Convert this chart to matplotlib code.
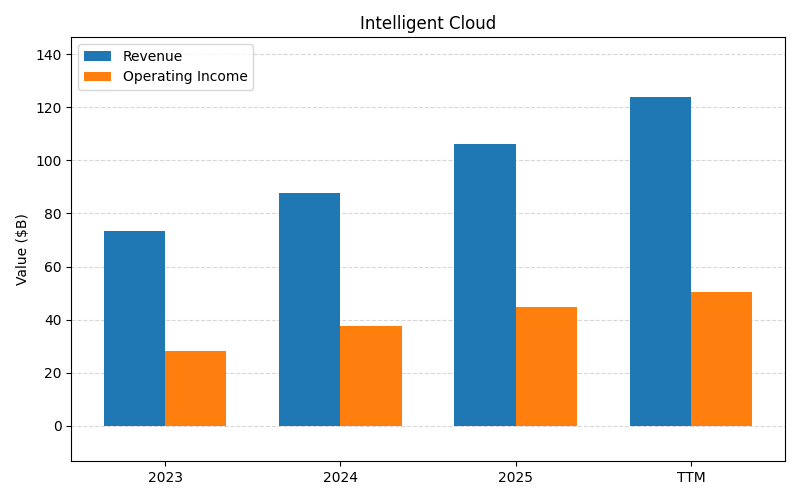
import matplotlib
matplotlib.use("Agg")
import matplotlib.pyplot as plt
import numpy as np

categories = ["2023", "2024", "2025", "TTM"]
revenue = [73.2, 87.6, 106.3, 123.7]
operating_income = [28.3, 37.7, 44.6, 50.6]

fig = plt.figure(figsize=(8, 5), dpi=100)
ax = fig.add_axes([0.089, 0.078, 0.892, 0.848])
x = np.arange(len(categories))
w = 0.35
ax.bar(x - w/2, revenue, w, label="Revenue", color="#1f77b4")
ax.bar(x + w/2, operating_income, w, label="Operating Income", color="#ff7f0e")
ax.set_xticks(x)
ax.set_xticklabels(categories)
ax.set_ylim(-13.2, 146.4)
ax.set_ylabel("Value ($B)")
ax.set_title("Intelligent Cloud")
ax.grid(axis="y", linestyle="--", alpha=0.5)
ax.set_axisbelow(True)
ax.legend(loc="upper left")
fig.savefig("out.png")
